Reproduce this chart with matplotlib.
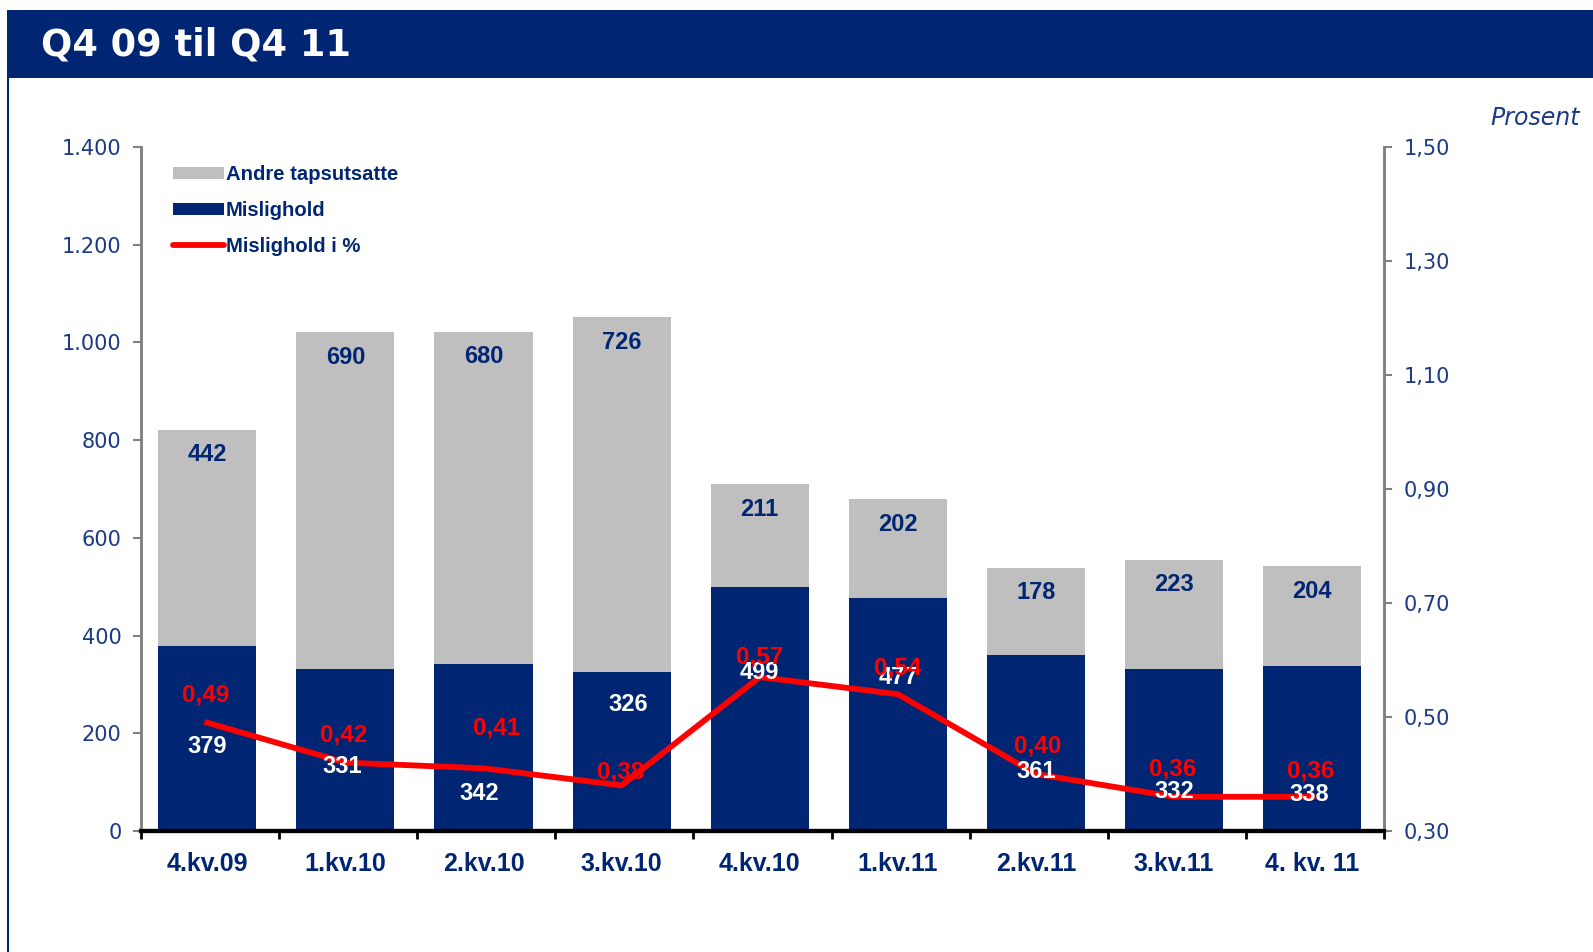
import numpy as np
import matplotlib.pyplot as plt
from matplotlib.patches import Rectangle, Patch
from matplotlib.lines import Line2D
from matplotlib.ticker import FuncFormatter, FixedLocator

# Tall per kvartal (mill. kr og prosent)
kvartaler = ['4.kv.09', '1.kv.10', '2.kv.10', '3.kv.10', '4.kv.10',
             '1.kv.11', '2.kv.11', '3.kv.11', '4. kv. 11']
mislighold = [379, 331, 342, 326, 499, 477, 361, 332, 338]
andre_tapsutsatte = [442, 690, 680, 726, 211, 202, 178, 223, 204]
mislighold_pst = [0.49, 0.42, 0.41, 0.38, 0.57, 0.54, 0.40, 0.36, 0.36]

# Plassering av tallene i de mørke søylene (venstre akse) og prosentetikettene (punkter)
tall_y = [173, 131, 77, 258, 325, 314, 121, 81, 75]
tall_dx = [0, -0.02, -0.03, 0.045, 0, 0, 0, 0, -0.02]
pst_dx = [-1, -1.5, 9.5, -1, 0, 0, 1.5, -1, -1]
pst_dy = [20, 20, 29, 9.5, 14.6, 19, 20.4, 19.7, 18.3]

blaa = '#002673'
graa = '#BFBFBF'
rod = '#FF0000'
tekstblaa = '#1A3A85'
fet = ['Liberation Sans', 'DejaVu Sans']

fig = plt.figure(figsize=(15.93, 9.52), dpi=100)

# Tittellinje
fig.patches.append(Rectangle((7 / 1593, 1 - 78 / 952), 1, 68 / 952, transform=fig.transFigure,
                             facecolor=blaa, edgecolor='none'))
fig.text(41 / 1593, 1 - 45 / 952, 'Q4 09 til Q4 11', color='white', fontsize=26.5,
         fontweight='bold', family='DejaVu Sans', va='center', ha='left')
fig.add_artist(Line2D([8 / 1593, 8 / 1593], [0, 1 - 78 / 952], transform=fig.transFigure,
                      color=blaa, lw=1.5))

ax = fig.add_axes([141 / 1593, 1 - 831 / 952, 1243 / 1593, 684 / 952])
ax2 = ax.twinx()

x = np.arange(len(kvartaler)) - 0.02
bredde = 0.71
ax.bar(x, mislighold, width=bredde, color=blaa, zorder=2)
ax.bar(x, andre_tapsutsatte, width=bredde, bottom=mislighold, color=graa, zorder=2)
ax2.plot(x, mislighold_pst, color=rod, lw=4.2, zorder=3)

ax.set_xlim(-0.5, len(kvartaler) - 0.5)
ax.set_ylim(0, 1400)
ax2.set_ylim(0.30, 1.50)
ax.set_yticks(range(0, 1401, 200))
ax2.set_yticks(np.arange(0.30, 1.51, 0.20))
ax.yaxis.set_major_formatter(FuncFormatter(lambda v, p: f'{int(v):,}'.replace(',', '.')))
ax2.yaxis.set_major_formatter(FuncFormatter(lambda v, p: f'{v:.2f}'.replace('.', ',')))

ax.set_xticks(x)
ax.set_xticklabels(kvartaler)
ax.xaxis.set_minor_locator(FixedLocator(np.arange(-0.5, len(kvartaler), 1.0)))
ax.tick_params(axis='x', which='major', length=0, pad=15, labelsize=18, labelcolor=blaa)
ax.tick_params(axis='x', which='minor', length=6, width=2, color='black', direction='out')
for lbl in ax.get_xticklabels():
    lbl.set_fontweight('bold')
    lbl.set_family(fet)

ax.tick_params(axis='y', length=6, width=1.5, color='#808080', pad=8, labelsize=15,
               labelcolor=tekstblaa)
ax2.tick_params(axis='y', length=6, width=1.5, color='#808080', pad=8, labelsize=15,
                labelcolor=tekstblaa)

for a in (ax, ax2):
    a.spines['top'].set_visible(False)
    a.spines['left'].set_color('#808080')
    a.spines['right'].set_color('#808080')
    a.spines['left'].set_linewidth(1.8)
    a.spines['right'].set_linewidth(1.8)
    a.spines['bottom'].set_color('black')
    a.spines['bottom'].set_linewidth(3)

# Tall i søylene
totalt = [m + a for m, a in zip(mislighold, andre_tapsutsatte)]
for i in range(len(kvartaler)):
    ax2.annotate(str(andre_tapsutsatte[i]), xy=(x[i], totalt[i]), xycoords=ax.transData,
                 xytext=(0, -18), textcoords='offset points', ha='center', va='center',
                 fontsize=17, fontweight='bold', family=fet, color=blaa)
    ax2.text(x[i] + tall_dx[i], tall_y[i], str(mislighold[i]), transform=ax.transData,
             ha='center', va='center', fontsize=17, fontweight='bold', family=fet,
             color='white', zorder=4)
    ax2.annotate(f'{mislighold_pst[i]:.2f}'.replace('.', ','), xy=(x[i], mislighold_pst[i]),
                 xytext=(pst_dx[i], pst_dy[i]), textcoords='offset points',
                 ha='center', va='center', fontsize=17.5, fontweight='bold', family=fet,
                 color=rod, zorder=5)

handles = [Patch(facecolor=graa, edgecolor='none'),
           Patch(facecolor=blaa, edgecolor='none'),
           Line2D([], [], color=rod, lw=4.2, solid_capstyle='round')]
ax2.legend(handles, ['Andre tapsutsatte', 'Mislighold', 'Mislighold i %'],
           loc='upper left', bbox_to_anchor=(0.0257, 0.9735), frameon=False,
           borderpad=0, borderaxespad=0, handlelength=2.5, handleheight=0.6,
           handletextpad=0.1, labelspacing=0.84, labelcolor=blaa,
           prop={'family': fet, 'weight': 'bold', 'size': 14.6})

fig.text(1580 / 1593, 1 - 118 / 952, 'Prosent', color=tekstblaa, fontsize=17,
         style='italic', family='DejaVu Sans', ha='right', va='center')

fig.savefig('out.png', dpi=100)
